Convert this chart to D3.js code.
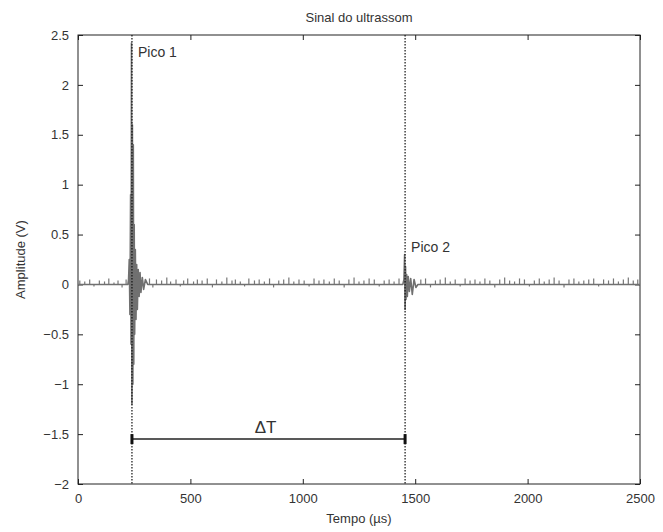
<!DOCTYPE html>
<html lang="pt">
<head>
<meta charset="utf-8">
<title>Sinal do ultrassom</title>
<script src="https://d3js.org/d3.v7.min.js"></script>
<style>
body { margin: 0; background: #fff; }
text { font-family: "Liberation Sans", Arial, sans-serif; fill: #333; }
.axis path, .axis line { stroke: #222; }
</style>
</head>
<body>
<div id="chart"></div>
<script>
// data
var xTicks = [0, 500, 1000, 1500, 2000, 2500];
var yTicks = [-2, -1.5, -1, -0.5, 0, 0.5, 1, 1.5, 2, 2.5];

// time (us) and amplitude (V) of the two echoes
var sigT = [0, 222, 225, 228, 231, 234, 236, 238, 240, 242, 244, 246, 248, 250, 252, 255, 258, 261, 264, 268, 272, 276, 280, 286, 292, 300, 310,
  1445, 1450, 1453, 1455, 1457, 1459, 1462, 1465, 1469, 1474, 1480, 1487, 1495, 1503, 1512, 2500];
var sigV = [0, 0, 0.05, 0.25, -0.3, 0.9, -0.6, 2.42, -1.2, 1.6, -1.0, 1.4, -0.8, 0.6, -0.5, 0.35, -0.35, 0.2, -0.25, 0.15, -0.12, 0.12, -0.08, 0.07, -0.05, 0.05, 0,
  0, 0.05, 0.3, -0.25, 0.18, -0.15, 0.1, -0.12, 0.08, -0.07, 0.06, -0.1, 0.05, -0.03, 0, 0];

// background noise spikes: time (us) and amplitude (V)
var noiseT = [8, 30, 52, 71, 95, 118, 137, 160, 178, 196, 214, 318, 333, 349, 372, 395, 412, 436, 455, 470, 488, 514, 531,
  552, 575, 598, 616, 640, 662, 685, 700, 722, 741, 760, 785, 806, 829, 852, 870, 893, 915, 938, 960, 983, 1006, 1028,
  1050, 1072, 1094, 1118, 1140, 1162, 1184, 1205, 1228, 1250, 1272, 1295, 1318, 1340, 1362, 1384, 1406, 1428,
  1525, 1546, 1568, 1590, 1611, 1634, 1656, 1678, 1700, 1722, 1744, 1766, 1788, 1810, 1832, 1854, 1876, 1898,
  1920, 1942, 1964, 1986, 2008, 2030, 2052, 2074, 2096, 2118, 2140, 2162, 2184, 2206, 2228, 2250, 2272, 2294,
  2316, 2338, 2360, 2382, 2404, 2426, 2448, 2470, 2490];
var noiseV = [0.04, 0.03, 0.05, -0.02, 0.04, 0.03, 0.06, 0.02, 0.04, -0.03, 0.05, 0.06, -0.03, 0.05, 0.04, 0.07, 0.03, 0.05, -0.02, 0.04, 0.06, 0.03,
  0.05, 0.04, 0.06, -0.03, 0.05, 0.03, 0.07, 0.04, 0.05, 0.03, -0.02, 0.06, 0.04, 0.05, 0.03, 0.06, -0.03, 0.04, 0.05, 0.07,
  0.03, 0.05, 0.04, -0.02, 0.06, 0.04, 0.05, 0.03, 0.06, 0.04, -0.03, 0.05, 0.07, 0.03, 0.04, 0.06, 0.05, -0.02, 0.04, 0.05, 0.03, 0.06,
  0.05, 0.06, -0.03, 0.04, 0.05, 0.07, 0.03, 0.05, -0.02, 0.06, 0.04, 0.05, 0.03, 0.06, 0.04, -0.03, 0.05, 0.07,
  0.04, 0.03, 0.06, 0.05, -0.02, 0.04, 0.06, 0.03, 0.05, 0.07, 0.04, -0.03, 0.05, 0.06, 0.03, 0.04, 0.05, 0.06,
  -0.02, 0.05, 0.04, 0.06, 0.03, 0.05, 0.07, 0.04, 0.05];

var peakT = [240, 1455];          // Pico 1, Pico 2
var peakLabels = ["Pico 1", "Pico 2"];
var peakLabelV = [2.28, 0.33];
var deltaV = -1.55;

var W = 663, H = 532;
var margin = {top: 35, right: 23, bottom: 48, left: 78};
var iw = W - margin.left - margin.right, ih = H - margin.top - margin.bottom;

var svg = d3.select("#chart").append("svg").attr("width", W).attr("height", H);
var g = svg.append("g").attr("transform", "translate(" + margin.left + "," + margin.top + ")");

var x = d3.scaleLinear().domain([0, 2500]).range([0, iw]);
var y = d3.scaleLinear().domain([-2, 2.5]).range([ih, 0]);

// frame
g.append("rect").attr("width", iw).attr("height", ih)
  .attr("fill", "none").attr("stroke", "#222").attr("stroke-width", 1);

// axes with inward ticks (all four sides)
var fmt = function(d) { return String(d).replace("-", "\u2212"); };
g.append("g").attr("class", "axis").attr("transform", "translate(0," + ih + ")")
  .call(d3.axisBottom(x).tickValues(xTicks).tickSize(-5).tickPadding(10).tickFormat(fmt))
  .call(function(a) { a.select(".domain").remove(); });
g.append("g").attr("class", "axis")
  .call(d3.axisTop(x).tickValues(xTicks).tickSize(-5).tickFormat(""))
  .call(function(a) { a.select(".domain").remove(); });
g.append("g").attr("class", "axis")
  .call(d3.axisLeft(y).tickValues(yTicks).tickSize(-5).tickPadding(9).tickFormat(fmt))
  .call(function(a) { a.select(".domain").remove(); });
g.append("g").attr("class", "axis").attr("transform", "translate(" + iw + ",0)")
  .call(d3.axisRight(y).tickValues(yTicks).tickSize(-5).tickFormat(""))
  .call(function(a) { a.select(".domain").remove(); });
g.selectAll(".axis text").style("font-size", "13px").style("font-family", "Liberation Sans, Arial, sans-serif").attr("fill", "#333");

// noise spikes
g.selectAll(".noise").data(noiseT).enter().append("line")
  .attr("x1", function(d) { return x(d); }).attr("x2", function(d) { return x(d); })
  .attr("y1", y(0)).attr("y2", function(d, i) { return y(noiseV[i]); })
  .attr("stroke", "#777").attr("stroke-width", 1.2);

// signal
var sig = sigT.map(function(t, i) { return [t, sigV[i]]; });
g.append("path").datum(sig)
  .attr("fill", "none").attr("stroke", "#707070").attr("stroke-width", 1.6)
  .attr("stroke-linejoin", "round")
  .attr("d", d3.line().x(function(d) { return x(d[0]); }).y(function(d) { return y(d[1]); }));

// dotted markers
g.selectAll(".mark").data(peakT).enter().append("line")
  .attr("x1", function(d) { return x(d); }).attr("x2", function(d) { return x(d); })
  .attr("y1", 0).attr("y2", ih)
  .attr("stroke", "#111").attr("stroke-width", 1.2).attr("stroke-dasharray", "1.5,1.5");

// peak labels
g.selectAll(".plabel").data(peakT).enter().append("text")
  .attr("x", function(d) { return x(d) + 6; })
  .attr("y", function(d, i) { return y(peakLabelV[i]); })
  .style("font-size", "14px")
  .text(function(d, i) { return peakLabels[i]; });

// delta T bar
g.append("line")
  .attr("x1", x(peakT[0])).attr("x2", x(peakT[1]))
  .attr("y1", y(deltaV)).attr("y2", y(deltaV))
  .attr("stroke", "#222").attr("stroke-width", 1.5);
g.selectAll(".cap").data(peakT).enter().append("line")
  .attr("x1", function(d) { return x(d); }).attr("x2", function(d) { return x(d); })
  .attr("y1", y(deltaV) - 5).attr("y2", y(deltaV) + 5)
  .attr("stroke", "#111").attr("stroke-width", 3);
g.append("text")
  .attr("x", x((peakT[0] + peakT[1]) / 2) - 3).attr("y", y(deltaV) - 6)
  .attr("text-anchor", "middle").style("font-size", "17px")
  .text("\u0394T");

// title and axis labels
svg.append("text").attr("x", margin.left + iw / 2).attr("y", 22)
  .attr("text-anchor", "middle").style("font-size", "13px").text("Sinal do ultrassom");
svg.append("text").attr("x", margin.left + iw / 2).attr("y", 523)
  .attr("text-anchor", "middle").style("font-size", "13px").text("Tempo (\u00b5s)");
svg.append("text").attr("transform", "translate(25," + (margin.top + ih / 2) + ") rotate(-90)")
  .attr("text-anchor", "middle").style("font-size", "13px").text("Amplitude (V)");
</script>
</body>
</html>
